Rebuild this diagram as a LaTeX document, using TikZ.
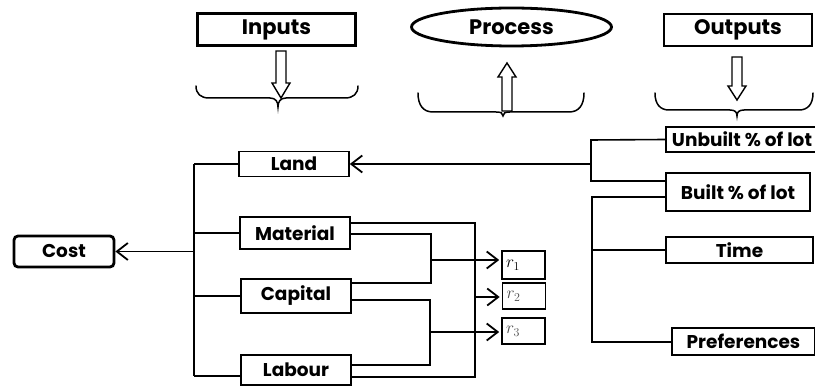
\documentclass[tikz,border=0pt]{standalone}
\usepackage{fontspec}
\setmainfont{Poppins}
\usetikzlibrary{arrows.meta,shapes.geometric,calc}
\begin{document}
\begin{tikzpicture}[x=1pt,y=-1pt,
  hdr/.style={draw, line width=2.8pt, font=\fontsize{21}{21}\selectfont\bfseries, inner sep=0pt},
  box/.style={draw, line width=1.6pt, font=\fontsize{18.5}{18.5}\selectfont\bfseries, inner sep=0pt},
  rbox/.style={draw, line width=1.6pt, minimum height=26pt, inner xsep=4pt, inner ysep=0pt, text width=35pt, align=left, font=\fontsize{17}{17}\selectfont},
  wire/.style={line width=1.6pt},
  arr/.style={wire, -{Straight Barb[length=11pt,width=17pt,line width=1.8pt]}},
  hollow/.style={draw, line width=1.4pt, fill=white, line join=miter},
  brc/.style={line width=1.5pt, line cap=round}
]
\useasboundingbox (0,0) rectangle (815,387);

% header row
\node[hdr, minimum width=158pt, minimum height=32pt] (inputs) at (276.5,29.5) {Inputs};
\node[hdr, ellipse, minimum width=200pt, minimum height=38pt] (process) at (511.5,27) {Process};
\node[hdr, minimum width=148pt, minimum height=32pt] (outputs) at (738,30) {Outputs};

% hollow block arrows
\draw[hollow] (276,51) -- (286,51) -- (286,83) -- (290,83) -- (281,98) -- (272,83) -- (276,83) -- cycle;
\draw[hollow] (502,111) -- (512,111) -- (512,77) -- (516,77) -- (507,63) -- (498,77) -- (502,77) -- cycle;
\draw[hollow] (732,57) -- (742,57) -- (742,86) -- (746,86) -- (737,100) -- (728,86) -- (732,86) -- cycle;

% braces
\draw[brc] (196,86) .. controls (196,94) and (201,98) .. (209,98) -- (270,98) .. controls (276,98) and (278,102) .. (278,107)
           .. controls (278,102) and (280,98) .. (286,98) -- (345,98) .. controls (353,98) and (358,94) .. (358,86);
\draw[brc] (418,93) .. controls (418,105) and (423,112) .. (433,112) -- (496,112) .. controls (501,112) and (503,113) .. (503,116)
           .. controls (503,113) and (505,112) .. (510,112) -- (569,112) .. controls (579,112) and (584,105) .. (584,93);
\draw[brc] (655,93) .. controls (655,104) and (660,110) .. (669,110) -- (730,110) .. controls (735,110) and (737,112) .. (737,116)
           .. controls (737,112) and (739,110) .. (744,110) -- (799,110) .. controls (808,110) and (813,104) .. (813,93);

% left side
\node[box, rounded corners=4pt, line width=2.8pt, minimum width=100pt, minimum height=31pt] (cost) at (64,251.5) {Cost};
\node[box, minimum width=110pt, minimum height=25pt] (land) at (294,164) {Land};
\node[box, minimum width=110pt, minimum height=32pt] (material) at (295,233) {Material};
\node[box, minimum width=110pt, minimum height=34pt] (capital) at (296,296) {Capital};
\node[box, minimum width=110pt, minimum height=30pt] (labour) at (296,370) {Labour};

\coordinate (ttop) at (194,164);
\coordinate (tbot) at (194,376);
\draw[wire] (ttop) -- (tbot);
\draw[wire] (ttop) -- (land.west);
\draw[wire] (material.west -| ttop) -- (material.west);
\draw[wire] (capital.west -| ttop) -- (capital.west);
\draw[wire] (tbot) -- (tbot -| labour.west);
\draw[arr] (cost.east -| ttop) -- (cost.east);

% r boxes
\node[rbox, minimum height=28pt] (r1) at (523.5,265) {$r_1$};
\node[rbox, text=black!70] (r2) at (524,296) {$r_2$};
\node[rbox, text=black!70] (r3) at (523.5,331) {$r_3$};

% combination wiring
\coordinate (xa) at (475,223);
\coordinate (xb) at (431,234);
\coordinate (xc) at (430,300);
\draw[wire] ($(material.east)+(0,-10)$) -- (xa) -- (xa |- 0,377) -- ($(labour.east)+(0,7)$);
\draw[wire] ($(material.east)+(0,1)$) -- (xb) -- (xb |- 0,283) -- ($(capital.east)+(0,-13)$);
\draw[wire] ($(capital.east)+(0,4)$) -- (xc) -- (xc |- 0,365) -- ($(labour.east)+(0,-5)$);
\draw[arr] (xb |- 0,260) -- ($(r1.west)+(-2,-5)$);
\draw[arr] (xa |- 0,297) -- ($(r2.west)+(-2,1)$);
\draw[arr] (xc |- 0,332) -- ($(r3.west)+(-2,1)$);

% right side
\node[box, minimum width=152pt, minimum height=25pt] (unbuilt) at (742,139.5) {Unbuilt \% of lot};
\node[box, minimum width=144pt, minimum height=38pt] (built) at (738,192) {Built \% of lot};
\node[box, minimum width=147pt, minimum height=26pt] (time) at (739.5,250) {Time};
\node[box, minimum width=143pt, minimum height=27pt] (pref) at (743.5,341.5) {Preferences};

\coordinate (ba) at (591,140);
\coordinate (bb) at (591,181);
\coordinate (bm) at (591,164);
\draw[wire] (unbuilt.west) -- (ba) -- (bb) -- (bb -| built.west);
\draw[arr] (bm) -- (land.east);

\coordinate (ca) at (592,197);
\coordinate (cb) at (592,342);
\draw[wire] (ca -| built.west) -- (ca) -- (cb) -- (cb -| pref.west);
\draw[wire] (time.west -| ca) -- (time.west);
\end{tikzpicture}
\end{document}
